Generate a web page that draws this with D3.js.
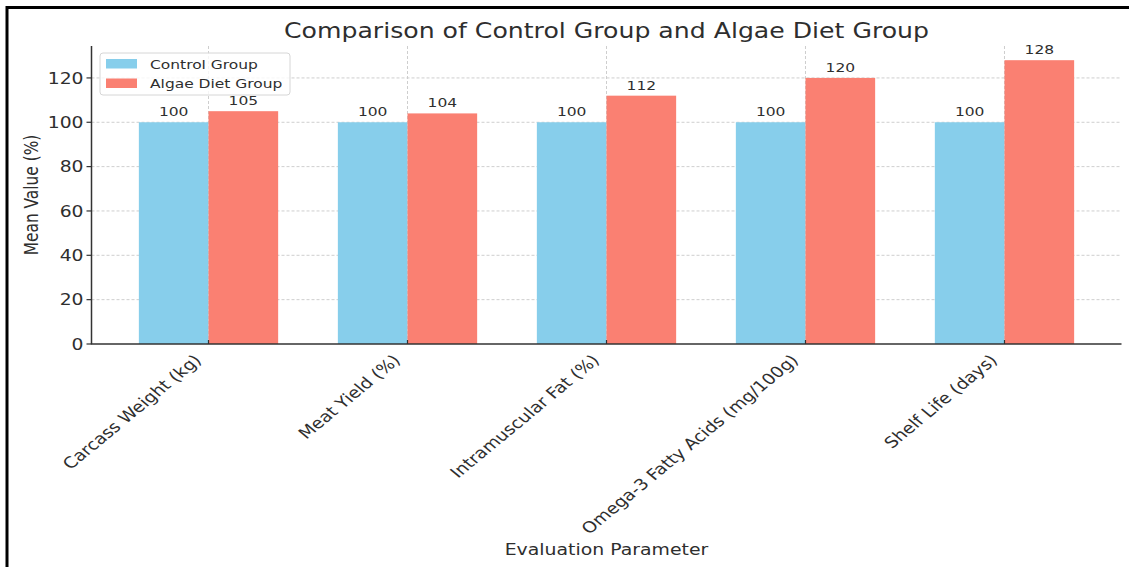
<!DOCTYPE html>
<html>
<head>
<meta charset="utf-8">
<script src="https://cdn.jsdelivr.net/npm/d3@7"></script>
<style>
  html, body { margin: 0; padding: 0; background: #fff; }
  svg { display: block; font-family: "DejaVu Sans", sans-serif; }
</style>
</head>
<body>
<svg id="chart" width="1129" height="567"></svg>
<script>
const categories = ["Carcass Weight (kg)", "Meat Yield (%)", "Intramuscular Fat (%)", "Omega-3 Fatty Acids (mg/100g)", "Shelf Life (days)"];
const seriesNames = ["Control Group", "Algae Diet Group"];
const controlValues = [100, 100, 100, 100, 100];
const algaeValues = [105, 104, 112, 120, 128];
const yTicks = [0, 20, 40, 60, 80, 100, 120];
const colors = ["#87CEEB", "#FA8072"];

(function () {
const seriesValues = [controlValues, algaeValues];
const SX = 1.21; // horizontal stretch of text
const textColor = "#2e2e2e";

const svg = d3.select("#chart");
const W = 1129, H = 567;
const pL = 91.5, pR = 1121.5, pT = 46, pB = 344;

const x0 = d3.scaleBand().domain(categories).range([pL, pR]).paddingInner(0).paddingOuter(0.088);
const x1 = d3.scaleBand().domain(seriesNames).range([0.15 * x0.bandwidth(), 0.85 * x0.bandwidth()]).padding(0);
const y = d3.scaleLinear().domain([0, 134.4]).range([pB, pT]);

// outer border
svg.append("path")
  .attr("d", `M7,${H} L7,7.5 L${W},7.5`)
  .attr("fill", "none").attr("stroke", "#000").attr("stroke-width", 3);

// grid
const grid = svg.append("g");
grid.selectAll("line.h").data(yTicks.slice(1)).join("line")
  .attr("x1", pL).attr("x2", pR)
  .attr("y1", d => y(d)).attr("y2", d => y(d))
  .attr("stroke", "#c8c8c8").attr("stroke-width", 0.9).attr("stroke-dasharray", "3,2");
grid.selectAll("line.v").data(categories).join("line")
  .attr("x1", d => x0(d) + x0.bandwidth() / 2).attr("x2", d => x0(d) + x0.bandwidth() / 2)
  .attr("y1", pT).attr("y2", pB)
  .attr("stroke", "#c8c8c8").attr("stroke-width", 0.9).attr("stroke-dasharray", "3,2");

// bars
const groups = svg.append("g").selectAll("g").data(categories).join("g")
  .attr("transform", d => `translate(${x0(d)},0)`);
groups.selectAll("rect").data((d, i) => seriesNames.map((s, k) => ({ s, k, v: seriesValues[k][i] }))).join("rect")
  .attr("x", d => x1(d.s)).attr("width", x1.bandwidth())
  .attr("y", d => y(d.v)).attr("height", d => y(0) - y(d.v))
  .attr("fill", d => colors[d.k]);

// bar labels
groups.selectAll("text").data((d, i) => seriesNames.map((s, k) => ({ s, k, v: seriesValues[k][i] }))).join("text")
  .attr("transform", d => `translate(${x1(d.s) + x1.bandwidth() / 2},${y(d.v) - 6}) scale(${SX},1)`)
  .attr("text-anchor", "middle").attr("font-size", 12.8).attr("fill", textColor)
  .text(d => d.v);

// axes spines
svg.append("line").attr("x1", pL).attr("x2", pL).attr("y1", pT).attr("y2", pB)
  .attr("stroke", "#333").attr("stroke-width", 1.5);
svg.append("line").attr("x1", pL - 0.7).attr("x2", pR).attr("y1", pB).attr("y2", pB)
  .attr("stroke", "#333").attr("stroke-width", 1.5);

// y ticks
const yt = svg.append("g");
yt.selectAll("line").data(yTicks).join("line")
  .attr("x1", pL - 5).attr("x2", pL).attr("y1", d => y(d)).attr("y2", d => y(d))
  .attr("stroke", "#333").attr("stroke-width", 1.2);
yt.selectAll("text").data(yTicks).join("text")
  .attr("transform", d => `translate(${pL - 8},${y(d)}) scale(${SX},1)`)
  .attr("text-anchor", "end").attr("dy", "0.36em").attr("font-size", 15.5).attr("fill", textColor)
  .text(d => d);

// x ticks
const xt = svg.append("g");
xt.selectAll("line").data(categories).join("line")
  .attr("x1", d => x0(d) + x0.bandwidth() / 2).attr("x2", d => x0(d) + x0.bandwidth() / 2)
  .attr("y1", pB - 4).attr("y2", pB)
  .attr("stroke", "#333").attr("stroke-width", 1.2);
const xl = xt.selectAll("g.lab").data(categories).join("g").attr("class", "lab");
xl.append("text")
  .attr("transform", `scale(${SX},1) rotate(-45)`)
  .attr("text-anchor", "end").attr("font-size", 15.4).attr("fill", textColor)
  .text(d => d);
xl.each(function (d) {
  const g = d3.select(this);
  const r = this.getBoundingClientRect();
  const cx = x0(d) + x0.bandwidth() / 2;
  const tx = (cx - 3) - r.right;
  const ty = 351 - r.top;
  g.attr("transform", `translate(${tx},${ty})`);
});

// axis labels
svg.append("text")
  .attr("transform", `translate(${(pL + pR) / 2},555) scale(${SX},1)`)
  .attr("text-anchor", "middle").attr("font-size", 15.6).attr("fill", textColor)
  .text("Evaluation Parameter");
svg.append("text")
  .attr("transform", `translate(38,${(pT + pB) / 2}) scale(${SX},1) rotate(-90)`)
  .attr("text-anchor", "middle").attr("font-size", 15.4).attr("fill", textColor)
  .text("Mean Value (%)");

// title
svg.append("text")
  .attr("transform", `translate(${(pL + pR) / 2},38) scale(${SX},1)`)
  .attr("text-anchor", "middle").attr("font-size", 20.8).attr("fill", textColor)
  .text("Comparison of Control Group and Algae Diet Group");

// legend
const lg = svg.append("g");
lg.append("rect").attr("x", 100).attr("y", 53).attr("width", 190).attr("height", 42)
  .attr("rx", 3).attr("fill", "#fff").attr("fill-opacity", 0.8)
  .attr("stroke", "#d6d6d6").attr("stroke-width", 1);
seriesNames.forEach((s, k) => {
  lg.append("rect").attr("x", 106).attr("y", 59 + k * 19.5).attr("width", 31).attr("height", 9.5)
    .attr("fill", colors[k]);
  lg.append("text")
    .attr("transform", `translate(150,${68.5 + k * 19.5}) scale(${SX},1)`)
    .attr("font-size", 12.8).attr("fill", textColor).text(s);
});
})();
</script>
</body>
</html>
